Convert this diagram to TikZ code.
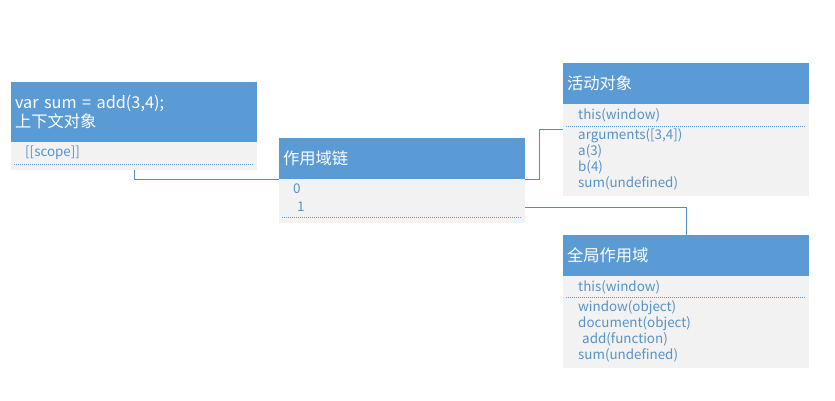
\documentclass[tikz,border=0pt]{standalone}
\usepackage{fontspec}
\setmainfont{Noto Sans CJK SC}
\usetikzlibrary{positioning, calc}
\definecolor{hdrblue}{HTML}{5B9BD5}
\definecolor{bodygray}{HTML}{F2F2F2}
\definecolor{linkblue}{HTML}{4F8CCB}
\tikzset{
  hdr/.style ={rectangle, fill=hdrblue, text=white, anchor=north west, outer sep=0pt,
               text width=238pt, inner xsep=4pt, inner ysep=2pt, align=left,
               font=\fontsize{16.3}{19}\selectfont},
  body/.style={rectangle, fill=bodygray, anchor=north west, outer sep=0pt,
               minimum width=246pt, inner sep=0pt},
  item/.style={anchor=west, text=hdrblue!95!black, inner sep=0pt, align=left,
               font=\fontsize{13.4}{16}\selectfont},
  sep/.style ={draw=hdrblue, line width=0.8pt, dash pattern=on 1pt off 1pt},  % dotted rule
  link/.style={draw=linkblue, line width=1pt},                                % connector
}

\begin{document}
\begin{tikzpicture}[x=1pt, y=-1pt]
\useasboundingbox (0,0) rectangle (835,400);

% context object
\node[hdr, minimum height=60pt] (hdr1) at (11,82) {var sum = add(3,4);\\上下文对象};
\node[body, minimum height=28pt] (body1) at (11,142) {};
\node[item] (scope) at (25,153) {[[scope]]};
\draw[sep] (14,164) -- (254,164);

% scope chain
\node[hdr, minimum height=41pt] (hdr2) at (279,138) {作用域链};
\node[body, minimum height=44pt] (body2) at (279,179) {};
\node[item] (zero) at (293,189) {0};
\node[item] (one) at (297,207) {1};
\draw[sep] (282,217) -- (522,217);

% activation object
\node[hdr, minimum height=41pt] (hdr3) at (563,63) {活动对象};
\node[body, minimum height=92pt] (body3) at (563,104) {};
\node[item] (this3) at (578,115) {this(window)};
\draw[sep] (566,126) -- (806,126);
\node[item] (vars3) at (578,159) {arguments([3,4])\\a(3)\\b(4)\\sum(undefined)};

% global scope
\node[hdr, minimum height=41pt] (hdr4) at (563,235) {全局作用域};
\node[body, minimum height=92pt] (body4) at (563,276) {};
\node[item] (this4) at (578,287) {this(window)};
\draw[sep] (566,297) -- (806,297);
\node[item] (vars4) at (578,331) {window(object)\\document(object)\\\hspace{4pt}add(function)\\sum(undefined)};

\coordinate (j1) at (539,129);

\draw[link] (body1.south) |- (body2.north west);
\draw[link] (body2.north east) -| (j1) -- (j1 -| body3.west);
\draw[link] (one -| body2.east) -| (hdr4.north);

\end{tikzpicture}
\end{document}
